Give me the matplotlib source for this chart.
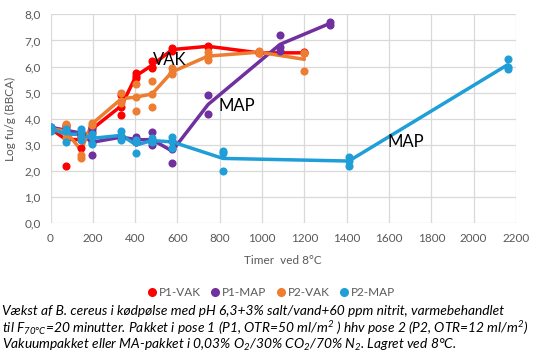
import numpy as np
import matplotlib
matplotlib.use("Agg")
import matplotlib.pyplot as plt
from matplotlib.lines import Line2D

plt.rcParams['font.family'] = ['Lato', 'DejaVu Sans']
plt.rcParams['mathtext.fontset'] = 'custom'
plt.rcParams['mathtext.rm'] = 'Lato:italic'
plt.rcParams['mathtext.it'] = 'Lato:italic'

# ---------------- data (hours at 8 C, log cfu/g replicates) ----------------
p1vak_t = [0, 71, 145, 195, 335, 405, 480, 575, 745, 985, 1200]
p1vak_v = [[3.6, 3.65], [2.2, 3.7, 3.75], [2.9, 3.4, 3.3], [3.5, 3.7],
           [4.15, 4.45, 4.9], [5.55, 5.75, 5.65], [5.95, 6.2, 6.0],
           [6.6, 6.7], [6.8, 6.75], [6.55, 6.5], [6.5, 6.55]]

p1map_t = [0, 145, 195, 335, 405, 480, 575, 745, 1085, 1320]
p1map_v = [[3.65, 3.7], [3.5, 3.4], [2.6, 3.6, 3.1], [3.35, 3.25],
           [3.3, 3.1], [3.5, 3.0, 3.1], [2.3, 3.15, 2.85], [4.9, 4.2],
           [7.2, 6.75, 6.6], [7.6, 7.7]]

p2vak_t = [0, 71, 145, 195, 335, 405, 480, 575, 745, 985, 1200]
p2vak_v = [[3.65, 3.6], [3.8, 3.25], [2.5, 2.6, 3.3], [3.75, 3.85],
           [5.0, 4.7, 4.6], [5.35, 4.85, 4.3], [5.45, 4.45, 4.95],
           [5.95, 5.75, 5.7], [6.55, 6.25, 6.4], [6.6, 6.5, 6.55],
           [6.5, 6.5, 5.83]]

p2map_t = [0, 71, 145, 195, 335, 405, 480, 575, 815, 1410, 2160]
p2map_v = [[3.55, 3.65, 3.7], [3.1, 3.55, 3.6], [3.6, 3.5, 3.2, 3.3],
           [3.05, 3.3, 3.4], [3.55, 3.35, 3.2], [2.7, 3.2, 3.1],
           [3.25, 3.1, 3.15], [3.3, 3.15, 2.9], [2.0, 2.75, 2.7],
           [2.55, 2.4, 2.2], [6.3, 6.0, 5.9]]

series_names = ["P1-VAK", "P1-MAP", "P2-VAK", "P2-MAP"]
series_colors = ["#FF0000", "#7030A0", "#ED7D31", "#1F9ED8"]

annotations = [("VAK", 484, 6.25), ("MAP", 793, 4.5), ("MAP", 1595, 3.1)]

xlabel = "Timer  ved 8\u00b0C"
ylabel = "Log fu/g (BBCA)"
caption = [
    "Vækst af B. cereus i kødpølse med pH 6,3+3% salt/vand+60 ppm nitrit, varmebehandlet",
    "til $F_{70°C}$=20 minutter. Pakket i pose 1 (P1, OTR=50 ml/m$^{2}$ ) hhv pose 2 (P2, OTR=12 ml/m$^{2}$)",
    "Vakuumpakket eller MA-pakket i 0,03% O$_{2}$/30% CO$_{2}$/70% N$_{2}$. Lagret ved 8°C.",
]

# ---------------- plot ----------------
fig = plt.figure(figsize=(5.42, 3.55), dpi=100)
ax = fig.add_axes([50.5 / 542, 1 - 223.3 / 355, (516 - 50.5) / 542, (223.3 - 14.3) / 355])

gray = "#595959"
all_series = [(p1vak_t, p1vak_v), (p1map_t, p1map_v), (p2vak_t, p2vak_v), (p2map_t, p2map_v)]
for i, (t, vals) in enumerate(all_series):
    c = series_colors[i]
    means = [np.mean(v) for v in vals]
    ax.plot(t, means, color=c, lw=2.5, zorder=3 + i * 0.1, solid_capstyle='round')
    xs = [tt for tt, v in zip(t, vals) for _ in v]
    ys = [y for v in vals for y in v]
    ax.scatter(xs, ys, s=34, color=c, zorder=4 + i * 0.1, linewidths=0)

for txt, x, y in annotations:
    ax.text(x, y, txt, fontsize=12, color="black", va="center", ha="left", zorder=10)

ax.set_xlim(0, 2200)
ax.set_ylim(0, 8)
ax.set_xticks(np.arange(0, 2201, 200))
ax.set_yticks(np.arange(0, 8.01, 1))
ax.set_yticklabels([f"{v:.1f}".replace(".", ",") for v in np.arange(0, 8.01, 1)])
ax.grid(True, color="#D9D9D9", lw=0.9)
ax.set_axisbelow(True)
for s in ax.spines.values():
    s.set_visible(False)
ax.tick_params(length=0, colors=gray, labelsize=8.5, pad=7)
ax.set_xlabel(xlabel, color=gray, fontsize=8.5, labelpad=8)
ax.set_ylabel(ylabel, color=gray, fontsize=8.5, labelpad=6)

handles = [Line2D([], [], marker='o', ls='', color=c, markersize=5.5) for c in series_colors]
leg = fig.legend(handles, series_names, loc="center", bbox_to_anchor=(270 / 542, 1 - 293 / 355),
                 ncol=4, frameon=False, fontsize=8.5, handletextpad=0.0, columnspacing=0.6,
                 handlelength=1.2, labelcolor=gray)

ys_cap = [311, 328, 345]
for line, yp in zip(caption, ys_cap):
    fig.text(2 / 542, 1 - yp / 355, line, fontsize=9.9, style="italic", color="black",
             ha="left", va="center")

fig.savefig("out.png", dpi=100)
